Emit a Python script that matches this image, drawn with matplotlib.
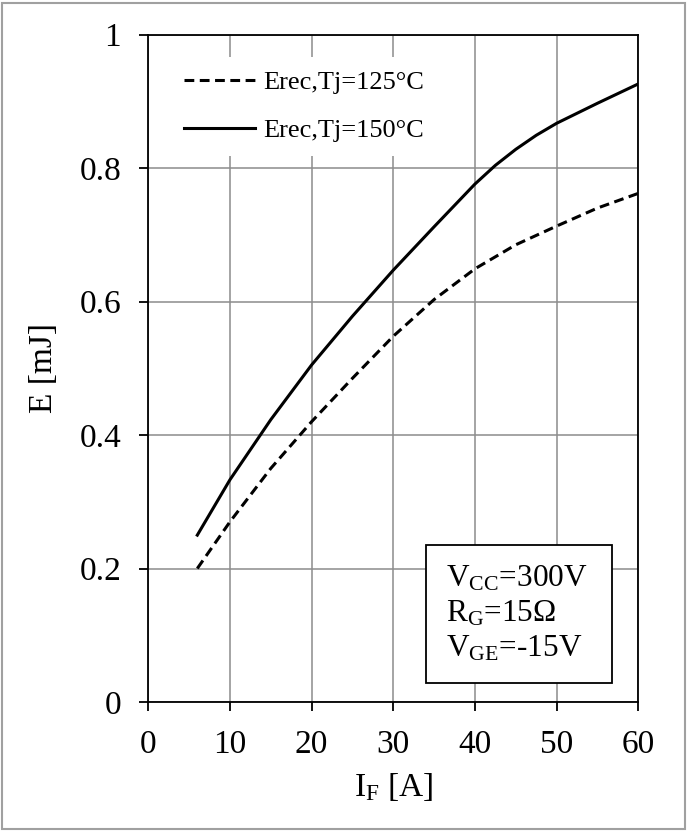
import matplotlib
matplotlib.use("Agg")
import matplotlib.pyplot as plt
from matplotlib.patches import Rectangle

plt.rcParams['font.family'] = ['Liberation Serif', 'DejaVu Serif']
plt.rcParams['mathtext.fontset'] = 'custom'
plt.rcParams['mathtext.rm'] = 'Liberation Serif'
plt.rcParams['mathtext.it'] = 'Liberation Serif:italic'

# Data
current_125 = [6, 10, 15, 20, 25, 30, 35, 40, 45, 50, 55, 60]
erec_125 = [0.20, 0.27, 0.35, 0.42, 0.485, 0.548, 0.603, 0.649, 0.685, 0.713, 0.740, 0.762]
current_150 = [6, 10, 15, 20, 25, 30, 35, 40, 42.5, 45, 47.5, 50, 55, 60]
erec_150 = [0.25, 0.333, 0.423, 0.505, 0.578, 0.647, 0.712, 0.776, 0.804, 0.828, 0.849, 0.867, 0.897, 0.926]
label_125 = "Erec,Tj=125°C"
label_150 = "Erec,Tj=150°C"
x_ticks = [0, 10, 20, 30, 40, 50, 60]
y_ticks = [0, 0.2, 0.4, 0.6, 0.8, 1.0]
y_tick_labels = ["0", "0.2", "0.4", "0.6", "0.8", "1"]
cond_text = "V$_{\\mathrm{CC}}$=300V\nR$_{\\mathrm{G}}$=15Ω\nV$_{\\mathrm{GE}}$=-15V"

W, H = 689, 831
fig = plt.figure(figsize=(W / 100, H / 100), dpi=100)
ax = fig.add_axes([148.3 / W, 1 - 702 / H, (638.3 - 148.3) / W, (702 - 34.5) / H])

ax.plot(current_125, erec_125, color='black', lw=2.2, dashes=(3.2, 1.8), label=label_125, zorder=3)
ax.plot(current_150, erec_150, color='black', lw=2.2, label=label_150, zorder=3)

ax.set_xlim(0, 60)
ax.set_ylim(0, 1)
ax.set_xticks(x_ticks)
ax.set_yticks(y_ticks)
ax.set_yticklabels(y_tick_labels)
ax.grid(True, color='#8c8c8c', lw=1.1, zorder=0)
ax.set_axisbelow(True)
for s in ax.spines.values():
    s.set_linewidth(1.3)
    s.set_color('black')
ax.tick_params(direction='out', length=6.5, width=1.3, labelsize=24)
ax.tick_params(axis='x', pad=13)
ax.tick_params(axis='y', pad=13)

ax.set_xlabel("I$_{\\mathrm{F}}$ [A]", fontsize=24, labelpad=8)
ax.set_ylabel("E [mJ]", fontsize=24, labelpad=15)

leg = ax.legend(loc='upper left', bbox_to_anchor=(0.03, 0.978), fontsize=19,
                frameon=True, facecolor='white', edgecolor='none', framealpha=1,
                handlelength=2.7, handletextpad=0.3, labelspacing=0.95,
                borderpad=0.5, borderaxespad=0.3)
leg.get_frame().set_linewidth(0)

ax.add_patch(Rectangle((0.567, 0.0285), 0.379, 0.2065, transform=ax.transAxes,
                       facecolor='white', edgecolor='black', lw=1.3, zorder=5))
ax.text(0.6075, 0.207, cond_text, transform=ax.transAxes, fontsize=22.5,
        va='top', ha='left', linespacing=1.245, zorder=6)

fig.patches.append(Rectangle((2 / W, 2 / H), (W - 6) / W, (H - 5) / H, transform=fig.transFigure,
                             fill=False, edgecolor='#a0a0a0', lw=1.5))

fig.savefig("out.png", dpi=100)
